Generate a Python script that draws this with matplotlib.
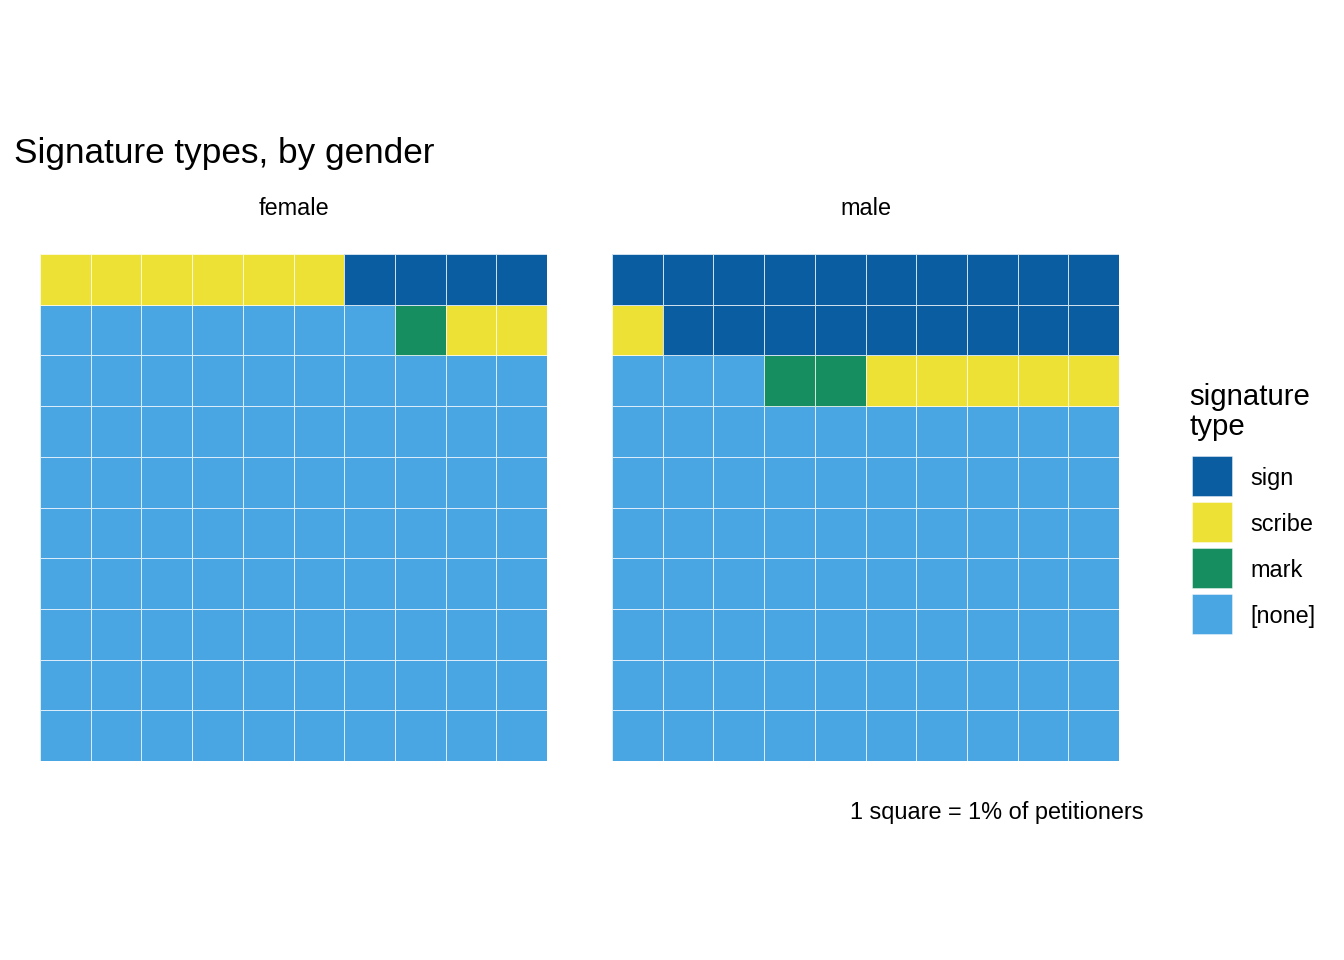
import matplotlib
matplotlib.use("Agg")
import matplotlib.pyplot as plt
import numpy as np
from matplotlib.colors import ListedColormap
from matplotlib.patches import Rectangle

# ---------------------------------------------------------------------------
# Data (1 square = 1% of petitioners)
# ---------------------------------------------------------------------------
categories = ["sign", "scribe", "mark", "[none]"]
genders = ["female", "male"]
female_pct = [4, 8, 1, 87]
male_pct = [19, 6, 2, 73]
colors = ["#0B5DA2", "#EDE135", "#168E5F", "#4AA5E3"]

plt.rcParams["font.family"] = ["Liberation Sans", "DejaVu Sans"]

W, H = 1344, 960
fig = plt.figure(figsize=(7, 5), dpi=192)

cmap = ListedColormap(colors)
edge = (1, 1, 1, 0.8)


def waffle_grid(counts):
    # fill starts top-right, runs right to left, then next row down
    seq = np.repeat(np.arange(len(counts)), counts)
    grid = np.zeros((10, 10), dtype=int)
    for k, c in enumerate(seq):
        row = k // 10
        col = 9 - (k % 10)
        grid[9 - row, col] = c
    return grid


panel_left = [40, 612]
for name, vals, left in zip(genders, [female_pct, male_pct], panel_left):
    ax = fig.add_axes([left / W, 1 - 761 / H, 507 / W, 507 / H])
    ax.pcolormesh(np.arange(11), np.arange(11), waffle_grid(vals),
                  cmap=cmap, vmin=-0.5, vmax=len(categories) - 0.5,
                  edgecolors=edge, linewidth=0.2)
    ax.set_xlim(0, 10)
    ax.set_ylim(0, 10)
    ax.set_axis_off()
    ax.set_title(name, fontsize=8.8, pad=14.5)

fig.text(14 / W, 1 - 163 / H, "Signature types, by gender",
         fontsize=13.2, va="baseline", ha="left")
fig.text(1144 / W, 1 - 819 / H, "1 square = 1% of petitioners",
         fontsize=8.8, va="baseline", ha="right")

# legend
fig.text(1189 / W, 1 - 405 / H, "signature", fontsize=11, va="baseline")
fig.text(1189 / W, 1 - 435 / H, "type", fontsize=11, va="baseline")
key_top = 456
for i, (cat, col) in enumerate(zip(categories, colors)):
    top = key_top + 46 * i
    fig.add_artist(Rectangle((1192 / W, 1 - (top + 39.5) / H), 39.5 / W, 39.5 / H,
                             transform=fig.transFigure, facecolor=col,
                             edgecolor=edge, linewidth=0.2))
    fig.text(1250 / W, 1 - (top + 22.5) / H, cat, fontsize=8.8,
             va="center", ha="left")

fig.savefig("out.png", dpi=192)
